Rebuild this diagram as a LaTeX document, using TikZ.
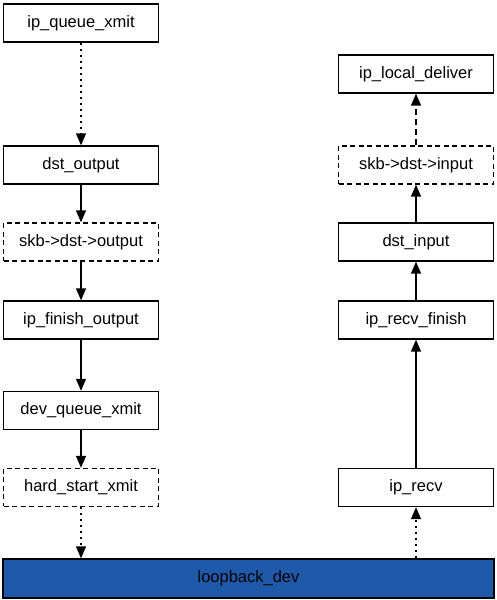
\documentclass[tikz,border=0pt]{standalone}
\usepackage{fontspec}
\setmainfont{Liberation Sans}
\usetikzlibrary{arrows.meta}
\definecolor{loopblue}{HTML}{1F5AAA}
\begin{document}
\begin{tikzpicture}[x=1pt,y=1pt,
  box/.style={draw=black, line width=1.4pt, fill=white, minimum width=155pt, minimum height=38pt, inner sep=0pt, font=\fontsize{16.5}{19}\selectfont},
  dbox/.style={box, dash pattern=on 5pt off 3.5pt},
  arr/.style={line width=1.5pt, -{Triangle[width=10pt,length=12pt]}},
  dotarr/.style={arr, dash pattern=on 2pt off 4pt},
  dasharr/.style={arr, dash pattern=on 6pt off 4pt}
]
\useasboundingbox (0,0) rectangle (496,600);
% left column
\node[box]  (iqx) at (81,577) {ip\_queue\_xmit};
\node[box]  (dso) at (81,435) {dst\_output};
\node[dbox] (sdo) at (81,358) {skb->dst->output};
\node[box]  (ifo) at (81,280) {ip\_finish\_output};
\node[box]  (dqx) at (81,189.5) {dev\_queue\_xmit};
\node[dbox] (hsx) at (81,112.5) {hard\_start\_xmit};
% bottom
\node[box, fill=loopblue, minimum width=491pt, minimum height=39pt] (lb) at (248.5,21.5) {loopback\_dev};
% right column
\node[box]  (ild) at (416,526) {ip\_local\_deliver};
\node[dbox] (sdi) at (416,435) {skb->dst->input};
\node[box]  (dsi) at (416,358) {dst\_input};
\node[box]  (irf) at (416,280) {ip\_recv\_finish};
\node[box]  (irc) at (416,112.5) {ip\_recv};
% connectors
\draw[dotarr] (iqx) -- (dso);
\draw[arr] (dso) -- (sdo);
\draw[arr] (sdo) -- (ifo);
\draw[arr] (ifo) -- (dqx);
\draw[arr] (dqx) -- (hsx);
\draw[dotarr] (hsx) -- (hsx |- lb.north);
\draw[dotarr] (lb.north -| irc) -- (irc);
\draw[arr] (irc) -- (irf);
\draw[arr] (irf) -- (dsi);
\draw[arr] (dsi) -- (sdi);
\draw[dasharr] (sdi) -- (ild);
\end{tikzpicture}
\end{document}
